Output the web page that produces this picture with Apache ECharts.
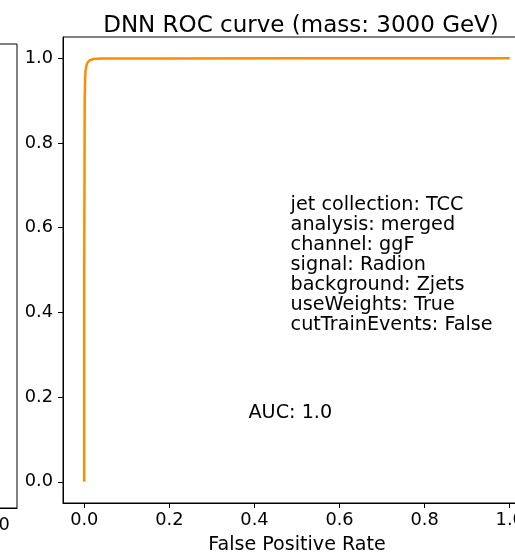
<!DOCTYPE html>
<html>
<head>
<meta charset="utf-8">
<script src="https://cdn.jsdelivr.net/npm/echarts@6/dist/echarts.min.js"></script>
<style>
html,body{margin:0;padding:0;background:#fff;}
#c{width:515px;height:554px;}
</style>
</head>
<body>
<div id="c"></div>
<script>
// ROC curve values
const fpr = [0.0, 0.0, 0.001, 0.002, 0.003, 0.005, 0.008, 0.013, 0.02, 0.04, 0.2, 0.5, 1.0];
const tpr = [0.0, 0.5, 0.9, 0.95, 0.97, 0.982, 0.99, 0.995, 0.998, 0.999, 0.9995, 1.0, 1.0];
const xTicks = [0.0, 0.2, 0.4, 0.6, 0.8, 1.0];
const yTicks = [0.0, 0.2, 0.4, 0.6, 0.8, 1.0];
const leftPanelXTicks = [1.0];
const titleText = 'DNN ROC curve (mass: 3000 GeV)';
const xLabel = 'False Positive Rate';
const infoLines = ['jet collection: TCC', 'analysis: merged', 'channel: ggF', 'signal: Radion', 'background: Zjets', 'useWeights: True', 'cutTrainEvents: False'];
const infoPos = [0.485, 0.512];
const aucText = 'AUC: 1.0';
const aucPos = [0.386, 0.163];

const FONT = 'DejaVu Sans';
const chart = echarts.init(document.getElementById('c'), null, {renderer: 'canvas'});
const fmt = v => Number(v).toFixed(1);

chart.setOption({
  animation: false,
  backgroundColor: '#fff',
  title: {
    text: titleText,
    left: 296,
    textAlign: 'center',
    top: 10,
    textStyle: {fontFamily: FONT, fontSize: 23, fontWeight: 'normal', color: '#000'}
  },
  grid: [
    {left: 63, top: 37, width: 468, height: 466, show: true, borderColor: '#000', borderWidth: 1, backgroundColor: 'transparent', containLabel: false, outerBoundsMode: 'none'},
    {left: -451, top: 44, width: 468, height: 464, show: true, borderColor: '#000', borderWidth: 1, backgroundColor: 'transparent', containLabel: false, outerBoundsMode: 'none'}
  ],
  xAxis: [
    {
      type: 'value', gridIndex: 0, min: -0.05, max: 1.05,
      name: xLabel, nameLocation: 'middle', nameGap: 33,
      nameTextStyle: {fontFamily: FONT, fontSize: 19.1, color: '#000'},
      axisLine: {show: true, onZero: false, lineStyle: {color: '#000', width: 1}},
      axisTick: {show: true, length: 5, lineStyle: {color: '#000'}, customValues: xTicks},
      axisLabel: {show: true, margin: 8, fontFamily: FONT, fontSize: 17.8, color: '#000', customValues: xTicks, formatter: fmt},
      splitLine: {show: false}
    },
    {
      type: 'value', gridIndex: 1, min: -0.05, max: 1.05,
      axisLine: {show: true, onZero: false, lineStyle: {color: '#000', width: 1}},
      axisTick: {show: true, length: 5, lineStyle: {color: '#000'}, customValues: leftPanelXTicks},
      axisLabel: {show: true, margin: 8, fontFamily: FONT, fontSize: 17.8, color: '#000', customValues: leftPanelXTicks, formatter: fmt},
      splitLine: {show: false}
    }
  ],
  yAxis: [
    {
      type: 'value', gridIndex: 0, min: -0.05, max: 1.05,
      axisLine: {show: true, onZero: false, lineStyle: {color: '#000', width: 1}},
      axisTick: {show: true, length: 5, lineStyle: {color: '#000'}, customValues: yTicks},
      axisLabel: {show: true, margin: 10, fontFamily: FONT, fontSize: 17.8, color: '#000', customValues: yTicks, formatter: fmt},
      splitLine: {show: false}
    },
    {
      type: 'value', gridIndex: 1, min: -0.05, max: 1.05,
      axisLine: {show: true, onZero: false, lineStyle: {color: '#000', width: 1}},
      axisTick: {show: false},
      axisLabel: {show: false},
      splitLine: {show: false}
    }
  ],
  series: [
    {
      type: 'line', xAxisIndex: 0, yAxisIndex: 0,
      data: fpr.map((x, i) => [x, tpr[i]]),
      showSymbol: false, symbol: 'none',
      lineStyle: {color: '#ff8c00', width: 2.5},
      clip: true
    },
    {
      type: 'scatter', xAxisIndex: 0, yAxisIndex: 0,
      symbolSize: 0, silent: true,
      itemStyle: {opacity: 1},
      data: [infoPos],
      label: {
        show: true, position: 'inside', align: 'left', verticalAlign: 'middle',
        formatter: infoLines.join('\n'),
        fontFamily: FONT, fontSize: 19.2, lineHeight: 20, color: '#000'
      }
    },
    {
      type: 'scatter', xAxisIndex: 0, yAxisIndex: 0,
      symbolSize: 0, silent: true,
      itemStyle: {opacity: 1},
      data: [aucPos],
      label: {
        show: true, position: 'inside', align: 'left', verticalAlign: 'middle',
        formatter: aucText,
        fontFamily: FONT, fontSize: 19.2, color: '#000'
      }
    }
  ]
});
</script>
</body>
</html>
